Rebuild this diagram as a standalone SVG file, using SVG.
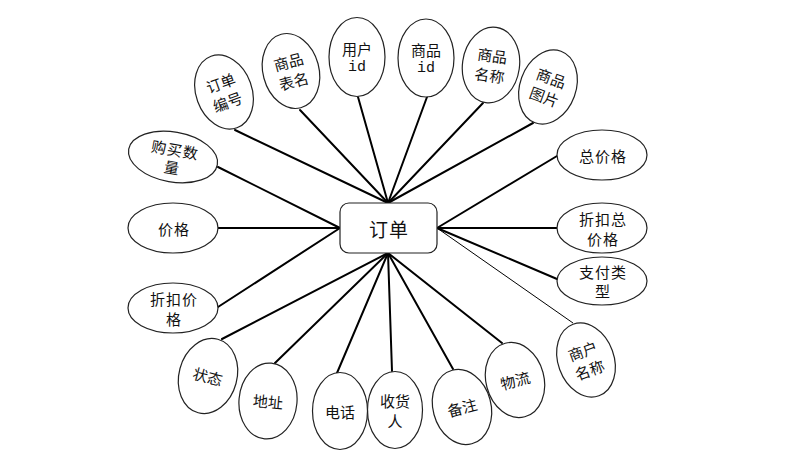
<svg xmlns="http://www.w3.org/2000/svg" width="800" height="472" viewBox="0 0 800 472">
<style>
  .bg{fill:#ffffff}
  .e{fill:#ffffff;stroke:#222222;stroke-width:1.2}
  .r{fill:#ffffff;stroke:#222222;stroke-width:1.2}
  .c{stroke:#000000;stroke-width:2;fill:none;stroke-linecap:round}
  .thin{stroke:#000000;stroke-width:1;fill:none}
  .t{font-family:"Noto Sans CJK SC","Noto Sans",sans-serif;font-size:15px;fill:#111111;text-anchor:middle;dominant-baseline:central}
  .m{font-family:"Liberation Mono",monospace;font-size:15px;fill:#111111;text-anchor:middle;dominant-baseline:central}
  .big{font-family:"Noto Sans CJK SC","Noto Sans",sans-serif;font-size:19px;fill:#111111;text-anchor:middle;dominant-baseline:central;letter-spacing:1px}
  .s{letter-spacing:1px}
</style>
<rect class="bg" x="0" y="0" width="800" height="472"/>
<g id="connectors">
  <line class="c" x1="235" y1="130" x2="388" y2="203"/>
  <line class="c" x1="300" y1="110" x2="388" y2="203"/>
  <line class="c" x1="358" y1="97" x2="388" y2="203"/>
  <line class="c" x1="427" y1="97" x2="388" y2="203"/>
  <line class="c" x1="483" y1="103" x2="388" y2="203"/>
  <line class="c" x1="533" y1="123" x2="388" y2="203"/>
  <line class="c" x1="557" y1="156" x2="437" y2="228"/>
  <line class="c" x1="557" y1="228" x2="437" y2="228"/>
  <line class="c" x1="557" y1="279" x2="437" y2="228"/>
  <line class="thin" x1="573" y1="323" x2="437" y2="228"/>
  <line class="c" x1="502" y1="343" x2="388" y2="253"/>
  <line class="c" x1="453" y1="369" x2="388" y2="253"/>
  <line class="c" x1="392" y1="371" x2="388" y2="253"/>
  <line class="c" x1="337" y1="373" x2="388" y2="253"/>
  <line class="c" x1="275" y1="363" x2="388" y2="253"/>
  <line class="c" x1="222" y1="339" x2="388" y2="253"/>
  <line class="c" x1="218" y1="307" x2="340" y2="228"/>
  <line class="c" x1="218" y1="228" x2="340" y2="228"/>
  <line class="c" x1="218" y1="167" x2="340" y2="228"/>
</g>
<g id="n_order">
  <rect class="r" x="340" y="203" width="97" height="50" rx="9"/>
  <text class="big" x="389" y="228">订单</text>
</g>
<g id="n_ddbh" transform="translate(224,92) rotate(-20)">
  <ellipse class="e" cx="0" cy="0" rx="28" ry="38"/>
  <text class="t" x="0" y="-10">订单</text>
  <text class="t" x="0" y="10">编号</text>
</g>
<g id="n_spbm" transform="translate(291,71) rotate(-15)">
  <ellipse class="e" cx="0" cy="0" rx="28" ry="38"/>
  <text class="t" x="0" y="-10">商品</text>
  <text class="t" x="0" y="10">表名</text>
</g>
<g id="n_yhid" transform="translate(357,57)">
  <ellipse class="e" cx="0" cy="0" rx="28" ry="39.5"/>
  <text class="t" x="0" y="-9">用户</text>
  <text class="m" x="0" y="10">id</text>
</g>
<g id="n_spid" transform="translate(426,58)">
  <ellipse class="e" cx="0" cy="0" rx="28" ry="39"/>
  <text class="t" x="0" y="-9">商品</text>
  <text class="m" x="0" y="10">id</text>
</g>
<g id="n_spmc" transform="translate(491,65) rotate(8)">
  <ellipse class="e" cx="0" cy="0" rx="28.5" ry="38"/>
  <text class="t" x="0" y="-10">商品</text>
  <text class="t" x="0" y="10">名称</text>
</g>
<g id="n_sptp" transform="translate(548,87) rotate(20)">
  <ellipse class="e" cx="0" cy="0" rx="28" ry="38"/>
  <text class="t" x="0" y="-10">商品</text>
  <text class="t" x="0" y="10">图片</text>
</g>
<g id="n_zjg">
  <ellipse class="e" cx="602" cy="155" rx="45" ry="25"/>
  <text class="t s" x="603" y="155">总价格</text>
</g>
<g id="n_zkzjg">
  <ellipse class="e" cx="602" cy="228" rx="45" ry="25"/>
  <text class="t s" x="603" y="218">折扣总</text>
  <text class="t s" x="603" y="238">价格</text>
</g>
<g id="n_zflx">
  <ellipse class="e" cx="602" cy="281" rx="45" ry="24"/>
  <text class="t s" x="603" y="271">支付类</text>
  <text class="t s" x="603" y="290">型</text>
</g>
<g id="n_shmc" transform="translate(586,360) rotate(-20)">
  <ellipse class="e" cx="0" cy="0" rx="28" ry="38"/>
  <text class="t" x="0" y="-10">商户</text>
  <text class="t" x="0" y="10">名称</text>
</g>
<g id="n_wl" transform="translate(515,380) rotate(-15)">
  <ellipse class="e" cx="0" cy="0" rx="29" ry="38"/>
  <text class="t" x="0" y="0">物流</text>
</g>
<g id="n_bz" transform="translate(462,407) rotate(-15)">
  <ellipse class="e" cx="0" cy="0" rx="29" ry="38"/>
  <text class="t" x="0" y="0">备注</text>
</g>
<g id="n_shr" transform="translate(395,410)">
  <ellipse class="e" cx="0" cy="0" rx="27.5" ry="38.5"/>
  <text class="t" x="0" y="-10">收货</text>
  <text class="t" x="0" y="10">人</text>
</g>
<g id="n_dh" transform="translate(340,411)">
  <ellipse class="e" cx="0" cy="0" rx="27.5" ry="38.5"/>
  <text class="t" x="0" y="0">电话</text>
</g>
<g id="n_dz" transform="translate(268,401) rotate(5)">
  <ellipse class="e" cx="0" cy="0" rx="29" ry="38"/>
  <text class="t" x="0" y="0">地址</text>
</g>
<g id="n_zt" transform="translate(208,376) rotate(15)">
  <ellipse class="e" cx="0" cy="0" rx="29" ry="38"/>
  <text class="t" x="0" y="0">状态</text>
</g>
<g id="n_zkjg">
  <ellipse class="e" cx="173" cy="308" rx="45" ry="25"/>
  <text class="t s" x="174" y="298">折扣价</text>
  <text class="t s" x="174" y="318">格</text>
</g>
<g id="n_jg">
  <ellipse class="e" cx="173" cy="228" rx="45" ry="25"/>
  <text class="t s" x="174" y="228">价格</text>
</g>
<g id="n_gmsl" transform="translate(173,157) rotate(10)">
  <ellipse class="e" cx="0" cy="0" rx="45" ry="25"/>
  <text class="t s" x="1" y="-8">购买数</text>
  <text class="t s" x="1" y="10">量</text>
</g>
</svg>
